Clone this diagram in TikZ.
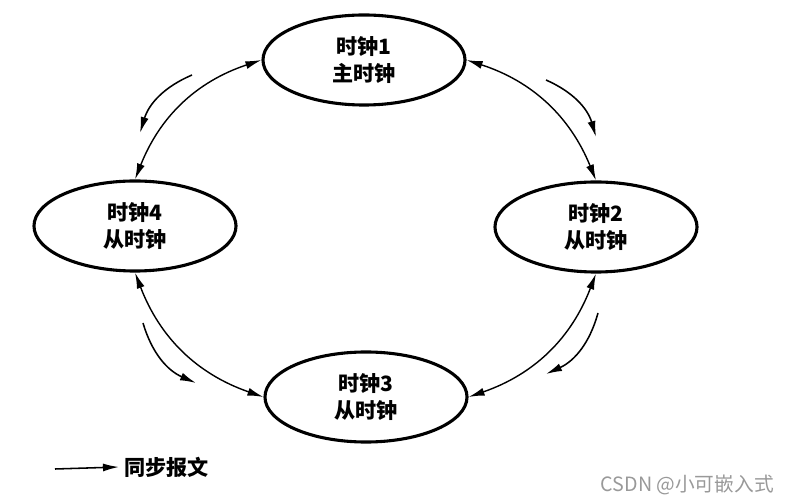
\documentclass[tikz,border=0pt]{standalone}
\usepackage{fontspec}
\setmainfont{Noto Sans CJK SC}
\usepackage{tikz}
\usetikzlibrary{shapes.geometric,arrows.meta}

\begin{document}
\begin{tikzpicture}[x=0.025cm, y=-0.025cm,
        clock/.style={ellipse, draw, line width=2.2pt, minimum width=5.05cm, minimum height=2.25cm,
            inner sep=0pt, align=center, font=\fontsize{15}{19}\selectfont\bfseries},
        sync/.style={line width=1pt, {Latex[length=4mm,width=2mm]}-{Latex[length=4mm,width=2mm]}, bend angle=25},
        flow/.style={line width=1.1pt, -{Latex[length=4mm,width=2mm]}, bend angle=25}]
        \useasboundingbox (0,0) rectangle (790,504);
        % clocks
        \node[clock] (c1) at (364,60) {时钟1\\主时钟};
        \node[clock] (c2) at (596,227) {时钟2\\从时钟};
        \node[clock] (c3) at (366,397) {时钟3\\从时钟};
        \node[clock] (c4) at (135,226) {时钟4\\从时钟};
        % sync links
        \draw[sync] (c1.west) to[bend right] (c4.north);
        \draw[sync] (c1.east) to[bend left] (c2.north);
        \draw[sync] (c2.south) to[bend left] (c3.east);
        \draw[sync] (c3.west) to[bend left] (c4.south);
        % message direction
        \coordinate (f1a) at (192,75);  \coordinate (f1b) at (140,133);
        \coordinate (f2a) at (546,80);  \coordinate (f2b) at (596,137);
        \coordinate (f3a) at (598,313); \coordinate (f3b) at (546,374);
        \coordinate (f4a) at (143,323); \coordinate (f4b) at (196,383);
        \draw[flow] (f1a) to[bend right] (f1b);
        \draw[flow] (f2a) to[bend left] (f2b);
        \draw[flow] (f3a) to[bend left] (f3b);
        \draw[flow] (f4a) to[bend right] (f4b);
        % legend
        \coordinate (lega) at (55,469);
        \node[anchor=west, inner sep=0pt, font=\fontsize{15}{15}\selectfont\bfseries] (legtext) at (124,467) {同步报文};
        \draw[flow] (lega) -- (legtext.west -| 119,0);
        \node[anchor=east, inner sep=0pt, text=black!40, font=\fontsize{14}{14}\selectfont] (mark) at (774,485) {CSDN @小可嵌入式};
    \end{tikzpicture}
\end{document}
